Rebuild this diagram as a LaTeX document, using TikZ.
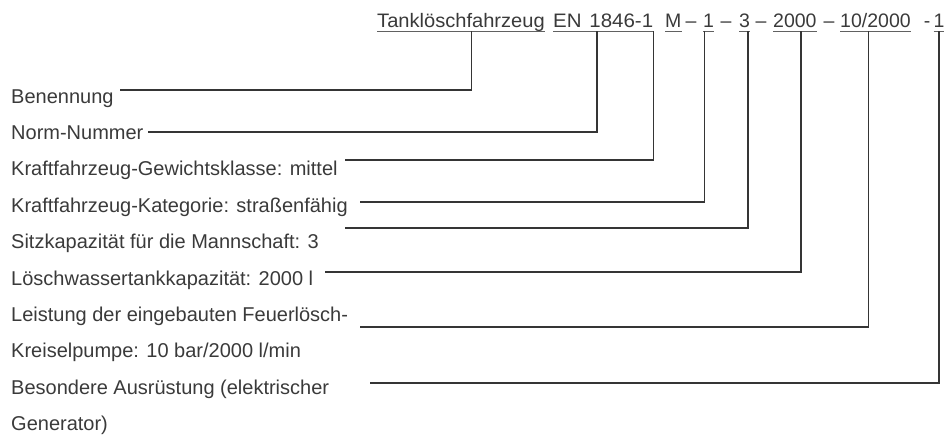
\documentclass[tikz,border=0pt]{standalone}
\usepackage{graphicx}
\usepackage{fontspec}
\setmainfont{Liberation Sans}
\definecolor{txtgray}{HTML}{3A3A3A}
\definecolor{lngray}{HTML}{353535}
\begin{document}
\begin{tikzpicture}[x=1pt, y=-1pt,
    lbl/.style={anchor=base west, inner sep=0pt, text=txtgray, font=\fontsize{20}{24}\selectfont},
    code/.style={anchor=base west, inner sep=0pt, text depth=4pt, text=txtgray, font=\fontsize{19.5}{23}\selectfont},
    sep/.style={anchor=base, inner sep=0pt, text=txtgray, font=\fontsize{19.5}{23}\selectfont},
    uline/.style={line width=1.2pt, draw=txtgray!80},
    conn/.style={line width=1.7pt, draw=lngray}]
    % 1. Bildrahmen
    \useasboundingbox (0,0) rectangle (944,434);

    % 2. Kurzbezeichnung oben (unterstrichene Teile)
    \node[code] (tank)   at (377,27) {\scalebox{1.03}[1]{Tanklöschfahrzeug}};
    \node[code] (norm)   at (553,27) {\scalebox{1.05}[1]{EN\hspace{2pt} 1846-1}\hspace{8.5pt}};
    \node[code] (gew)    at (665,27) {M};
    \node[code] (kat)    at (703,27) {1};
    \node[code] (sitz)   at (739,27) {3};
    \node[code] (wasser) at (773,27) {2000};
    \node[code] (pumpe)  at (840,27) {10/2000};
    \node[code] (ausr)   at (933.5,27) {1};

    % Trennstriche dazwischen
    \node[sep] (dash1) at (691,27) {–};
    \node[sep] (dash2) at (726,27) {–};
    \node[sep] (dash3) at (761,27) {–};
    \node[sep] (dash4) at (829,27) {–};
    \node[sep] (dash5) at (927,27) {-};

    % Unterstreichungen
    \foreach \n in {tank, norm, gew, kat, sitz, wasser, pumpe, ausr}
        \draw[uline] (\n.south west) -- (\n.south east);

    % 3. Erklaerungen links
    \node[lbl] (benennung) at (11,103) {Benennung};
    \node[lbl] (nummer)    at (11,139) {Norm-Nummer};
    \node[lbl] (klasse)    at (11,175) {Kraftfahrzeug-Gewichtsklasse: mittel};
    \node[lbl] (kategorie) at (11,212) {Kraftfahrzeug-Kategorie: straßenfähig};
    \node[lbl] (mannschaft) at (11,248) {Sitzkapazität für die Mannschaft: 3};
    \node[lbl] (tankkap)   at (11,285) {Löschwassertankkapazität: 2000 l};
    \node[lbl] (leistung1) at (11,321) {Leistung der eingebauten Feuerlösch-};
    \node[lbl] (leistung2) at (11,357) {Kreiselpumpe: 10 bar/2000 l/min};
    \node[lbl] (besonders1) at (11,394) {Besondere Ausrüstung (elektrischer};
    \node[lbl] (besonders2) at (11,430) {Generator)};

    % 4. Anfangspunkte der Verbindungslinien
    \coordinate (s1) at (120,90);
    \coordinate (s2) at (148,132);
    \coordinate (s3) at (345,160);
    \coordinate (s4) at (360,202);
    \coordinate (s5) at (345,228);
    \coordinate (s6) at (325,272);
    \coordinate (s7) at (360,327);
    \coordinate (s8) at (370,383);

    % 5. Verbindungslinien nach oben
    \draw[conn] (s1) -| ([xshift=10.5pt]tank.south);
    \draw[conn] (s2) -| ([xshift=-6.5pt]norm.south);
    \draw[conn] (s3) -| (norm.south east);
    \draw[conn] (s4) -| ([xshift=1.5pt]kat.south west);
    \draw[conn] (s5) -| ([xshift=-2pt]sitz.south east);
    \draw[conn] (s6) -| ([xshift=6pt]wasser.south);
    \draw[conn] (s7) -| ([xshift=-7pt]pumpe.south);
    \draw[conn] (s8) -| (ausr.south);
\end{tikzpicture}
\end{document}
